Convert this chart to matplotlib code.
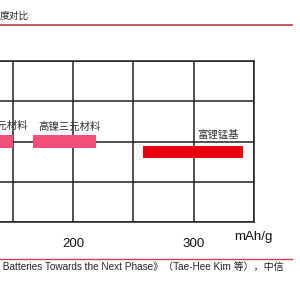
import matplotlib
matplotlib.use("Agg")
import matplotlib.pyplot as plt
from matplotlib.ticker import MultipleLocator

# ---- data ----
materials = ["三元材料", "高镍三元材料", "富锂锰基"]
cap_low = [125, 167, 258]      # mAh/g, bar start
cap_high = [150, 219, 341]     # mAh/g, bar end
rows = [2.0, 2.0, 1.75]        # row position of each bar
bar_colors = ["#F2507A", "#F2507A", "#E8000E"]
xticks = [100, 200, 300]
x_unit = "mAh/g"
title_tail = "度对比"
source_text = " Batteries Towards the Next Phase》（Tae-Hee Kim 等），中信"

plt.rcParams['font.family'] = ['Noto Sans CJK SC', 'DejaVu Sans']

W = H = 300.0
fig = plt.figure(figsize=(3, 3), dpi=100)
fig.patch.set_facecolor("white")

# axes placement in pixels
ax_left, ax_right, ax_top, ax_bottom = 0.0, 253.7, 61.0, 222.0
ax = fig.add_axes([ax_left / W, 1 - ax_bottom / H, (ax_right - ax_left) / W, (ax_bottom - ax_top) / H])
ax.set_xlim(139.2, 350)
ax.set_ylim(0, 4)

ax.xaxis.set_major_locator(MultipleLocator(50))
ax.yaxis.set_major_locator(MultipleLocator(1))
ax.grid(True, color="#222222", linewidth=1.1, zorder=0)
ax.set_axisbelow(True)
for s in ["top", "right", "bottom"]:
    ax.spines[s].set_color("#222222")
    ax.spines[s].set_linewidth(1.1)
ax.spines["left"].set_visible(False)
ax.tick_params(length=0, labelleft=False, labelbottom=False)

bar_h = 0.3
for lo, hi, r, c in zip(cap_low, cap_high, rows, bar_colors):
    ax.barh(r, hi - lo, left=lo, height=bar_h, color=c, zorder=3, clip_on=True)

# labels
label_offsets = [(10.4, 11.0), (3.0, 11.0), (-3.0, 12.0)]
label_ha = ["right", "right", "right"]
for name, hi, r, (dx, dy), ha in zip(materials, cap_high, rows, label_offsets, label_ha):
    ax.annotate(name, xy=(hi, r), xytext=(dx, dy), textcoords="offset points",
                ha=ha, va="center", fontsize=7.5, color="#333333", zorder=4)

# tick labels (only every 100)
for t in xticks:
    ax.annotate(str(t), xy=(t, 0), xytext=(0, -16), textcoords="offset points",
                ha="center", va="center", fontsize=9.6, family="Liberation Sans",
                color="#111111", annotation_clip=True)

fig.text(253 / W, 1 - 237 / H, x_unit, ha="center", va="center", fontsize=9.6,
         family="Liberation Sans", color="#111111")

# title fragment and red rules
fig.text(0.0, 1 - 16 / H, title_tail, ha="left", va="center", fontsize=7, color="#222222")
fig.add_artist(plt.Line2D([0, 291.7 / W], [1 - 25 / H, 1 - 25 / H], color="#C8464B", linewidth=1.3))
fig.add_artist(plt.Line2D([0, 291.7 / W], [1 - 259 / H, 1 - 259 / H], color="#C8464B", linewidth=1.0))

fig.text(0.0, 1 - 267 / H, source_text, ha="left", va="center", fontsize=7.2,
         family=["Liberation Sans", "Noto Sans CJK SC"], color="#222222")

fig.savefig("out.png", dpi=100, facecolor="white")
